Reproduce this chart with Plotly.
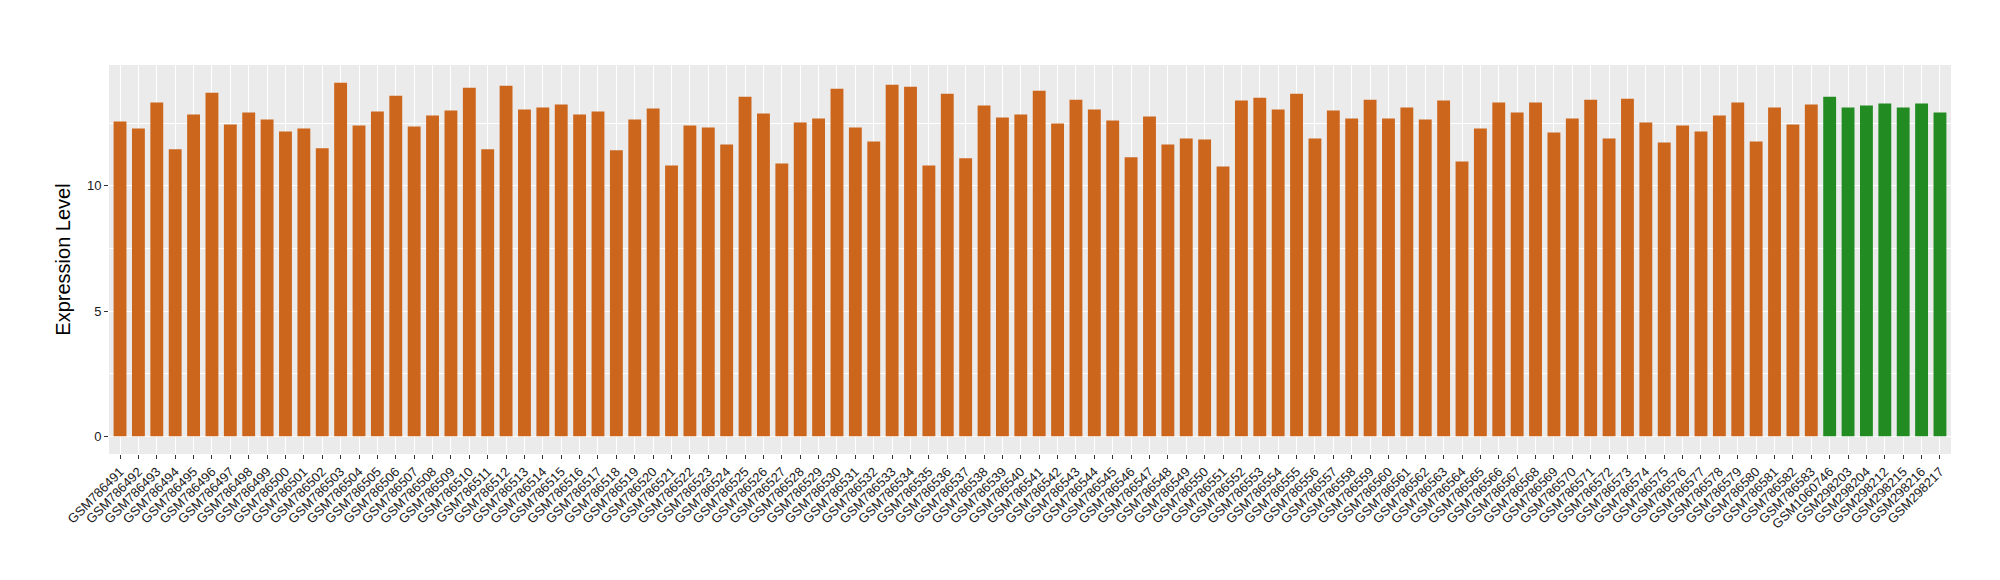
import plotly.graph_objects as go

samples_main = [
    "GSM786491", "GSM786492", "GSM786493", "GSM786494", "GSM786495", "GSM786496", "GSM786497",
    "GSM786498", "GSM786499", "GSM786500", "GSM786501", "GSM786502", "GSM786503", "GSM786504",
    "GSM786505", "GSM786506", "GSM786507", "GSM786508", "GSM786509", "GSM786510", "GSM786511",
    "GSM786512", "GSM786513", "GSM786514", "GSM786515", "GSM786516", "GSM786517", "GSM786518",
    "GSM786519", "GSM786520", "GSM786521", "GSM786522", "GSM786523", "GSM786524", "GSM786525",
    "GSM786526", "GSM786527", "GSM786528", "GSM786529", "GSM786530", "GSM786531", "GSM786532",
    "GSM786533", "GSM786534", "GSM786535", "GSM786536", "GSM786537", "GSM786538", "GSM786539",
    "GSM786540", "GSM786541", "GSM786542", "GSM786543", "GSM786544", "GSM786545", "GSM786546",
    "GSM786547", "GSM786548", "GSM786549", "GSM786550", "GSM786551", "GSM786552", "GSM786553",
    "GSM786554", "GSM786555", "GSM786556", "GSM786557", "GSM786558", "GSM786559", "GSM786560",
    "GSM786561", "GSM786562", "GSM786563", "GSM786564", "GSM786565", "GSM786566", "GSM786567",
    "GSM786568", "GSM786569", "GSM786570", "GSM786571", "GSM786572", "GSM786573", "GSM786574",
    "GSM786575", "GSM786576", "GSM786577", "GSM786578", "GSM786579", "GSM786580", "GSM786581",
    "GSM786582", "GSM786583",
]
values_main = [
    12.56, 12.28, 13.32, 11.45, 12.84, 13.71, 12.44, 12.92, 12.64, 12.16,
    12.28, 11.49, 14.11, 12.40, 12.96, 13.59, 12.36, 12.80, 13.00, 13.91,
    11.45, 13.99, 13.04, 13.12, 13.24, 12.84, 12.96, 11.41, 12.64, 13.08,
    10.81, 12.40, 12.32, 11.64, 13.55, 12.88, 10.89, 12.52, 12.68, 13.87,
    12.32, 11.76, 14.03, 13.95, 10.81, 13.67, 11.09, 13.20, 12.72, 12.84,
    13.79, 12.48, 13.43, 13.04, 12.60, 11.13, 12.76, 11.64, 11.88, 11.84,
    10.77, 13.40, 13.51, 13.04, 13.67, 11.88, 13.00, 12.68, 13.43, 12.68,
    13.12, 12.64, 13.40, 10.97, 12.28, 13.32, 12.92, 13.32, 12.12, 12.68,
    13.43, 11.88, 13.47, 12.52, 11.72, 12.40, 12.16, 12.80, 13.32, 11.76,
    13.12, 12.44, 13.24,
]

samples_other = ["GSM1060746", "GSM298203", "GSM298204", "GSM298212", "GSM298215", "GSM298216", "GSM298217"]
values_other = [13.55, 13.12, 13.20, 13.28, 13.12, 13.28, 12.92]

y_tick_values = [0, 5, 10]
y_tick_labels = ["0", "5", "10"]
y_minor_values = [2.5, 7.5, 12.5]

color_main = "#CD661D"
color_other = "#228B22"

categories = samples_main + samples_other
values = values_main + values_other
colors = [color_main] * len(samples_main) + [color_other] * len(samples_other)

ymax = max(values)

fig = go.Figure()
fig.add_trace(go.Bar(
    x=categories, y=values, width=0.7,
    marker=dict(color=colors, line=dict(width=0)),
    showlegend=False,
))

font_family = "Liberation Sans, Arial, Helvetica, sans-serif"

fig.update_layout(
    width=2000, height=580,
    margin=dict(l=101, r=57, t=57, b=134, autoexpand=False),
    paper_bgcolor="white",
    plot_bgcolor="#EBEBEB",
    font=dict(family=font_family, color="#1a1a1a"),
)
fig.update_xaxes(
    type="category",
    range=[-0.6, len(categories) - 1 + 0.6],
    tickmode="array", tickvals=categories, ticktext=categories,
    tickangle=-45,
    tickfont=dict(size=13, color="#1a1a1a", family=font_family),
    ticks="outside", ticklen=4, tickwidth=1, tickcolor="#333333",
    showgrid=True, gridcolor="white", gridwidth=1.1,
    showline=False, zeroline=False, automargin=False,
)
fig.update_yaxes(
    range=[-0.05 * ymax, 1.05 * ymax],
    tickmode="array", tickvals=y_tick_values, ticktext=y_tick_labels,
    tickfont=dict(size=13, color="#1a1a1a", family=font_family),
    ticks="outside", ticklen=4, tickwidth=1, tickcolor="#333333",
    showgrid=True, gridcolor="white", gridwidth=1.1,
    minor=dict(tickmode="array", tickvals=y_minor_values, showgrid=True,
               gridcolor="white", gridwidth=0.55, ticks=""),
    zeroline=False, showline=False, automargin=False,
    title=dict(text="Expression Level", font=dict(size=20, color="black", family=font_family), standoff=10),
)

fig.write_html("out.html")
